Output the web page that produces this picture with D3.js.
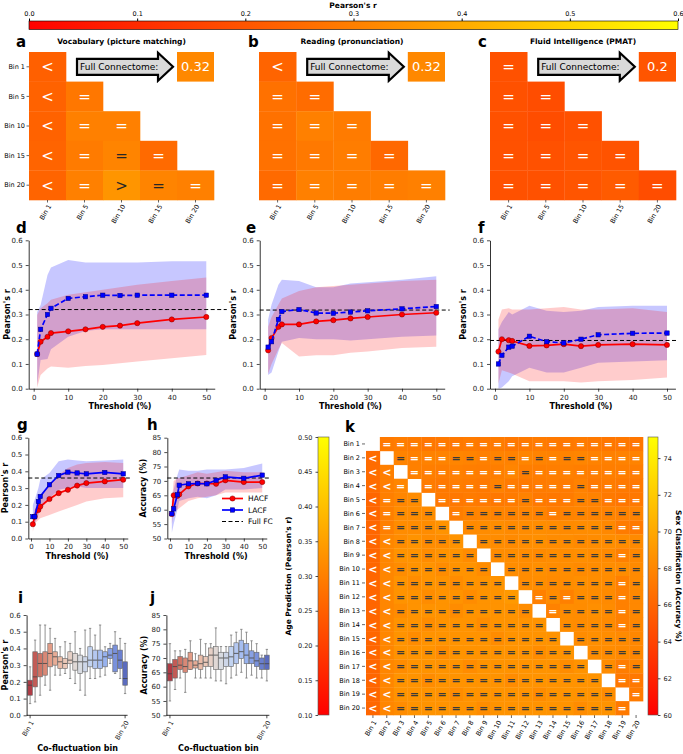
<!DOCTYPE html>
<html>
<head>
<meta charset="utf-8">
<script src="https://cdn.jsdelivr.net/npm/d3@7"></script>
<style>
body { margin: 0; background: #fff; }
svg { font-family: "DejaVu Sans", sans-serif; }
</style>
</head>
<body>
<div id="fig"></div>
<script>
// ---- data ----
var bins5 = ["Bin 1", "Bin 5", "Bin 10", "Bin 15", "Bin 20"];

// lower-triangle r values and comparison signs ('e' = dark '=', 'g' = dark '>')
var vocabR = [[0.225], [0.23, 0.28], [0.23, 0.30, 0.30], [0.235, 0.29, 0.31, 0.25], [0.235, 0.30, 0.35, 0.31, 0.30]];
var vocabSign = ["<", "<=", "<==", "<=e=", "<=ge="];
var vocabFull = 0.32;

var readR = [[0.235], [0.265, 0.255], [0.265, 0.30, 0.29], [0.265, 0.285, 0.295, 0.245], [0.25, 0.30, 0.295, 0.295, 0.30]];
var readSign = ["<", "==", "===", "====", "====="];
var readFull = 0.32;

var pmatR = [[0.19], [0.19, 0.18], [0.19, 0.18, 0.19], [0.19, 0.19, 0.20, 0.195], [0.19, 0.19, 0.20, 0.215, 0.18]];
var pmatSign = ["=", "==", "===", "====", "====="];
var pmatFull = 0.2;

var thresholds = [1, 2, 4, 5, 10, 15, 20, 25, 30, 40, 50];

var dHacf = [0.14, 0.19, 0.21, 0.225, 0.232, 0.24, 0.25, 0.255, 0.265, 0.28, 0.29];
var dLacf = [0.14, 0.24, 0.30, 0.325, 0.365, 0.372, 0.378, 0.377, 0.378, 0.378, 0.378];
var dHacfLo = [0.005, 0.055, 0.082, 0.09, 0.085, 0.092, 0.096, 0.103, 0.11, 0.123, 0.136];
var dHacfHi = [0.298, 0.325, 0.345, 0.36, 0.38, 0.39, 0.40, 0.41, 0.42, 0.435, 0.45];
var dLacfLo = [0.015, 0.116, 0.12, 0.16, 0.21, 0.233, 0.24, 0.24, 0.24, 0.24, 0.24];
var dLacfHi = [0.31, 0.338, 0.46, 0.49, 0.52, 0.51, 0.51, 0.51, 0.51, 0.515, 0.515];
var dFull = 0.32;

var eHacf = [0.155, 0.205, 0.25, 0.26, 0.26, 0.272, 0.277, 0.284, 0.29, 0.30, 0.307];
var eLacf = [0.168, 0.19, 0.28, 0.312, 0.32, 0.306, 0.305, 0.31, 0.315, 0.323, 0.332];
var eHacfLo = [0.06, 0.10, 0.16, 0.185, 0.13, 0.135, 0.135, 0.145, 0.15, 0.165, 0.17];
var eHacfHi = [0.25, 0.29, 0.34, 0.365, 0.395, 0.41, 0.415, 0.42, 0.425, 0.435, 0.44];
var eLacfLo = [0.055, 0.065, 0.15, 0.19, 0.205, 0.20, 0.20, 0.195, 0.20, 0.21, 0.215];
var eLacfHi = [0.28, 0.34, 0.42, 0.44, 0.435, 0.41, 0.41, 0.425, 0.43, 0.44, 0.455];
var eFull = 0.318;

var fHacf = [0.15, 0.20, 0.196, 0.193, 0.173, 0.175, 0.18, 0.172, 0.177, 0.18, 0.177];
var fLacf = [0.10, 0.135, 0.168, 0.172, 0.212, 0.19, 0.185, 0.20, 0.218, 0.224, 0.225];
var fHacfLo = [0.02, 0.075, 0.065, 0.06, 0.03, 0.03, 0.03, 0.025, 0.03, 0.035, 0.045];
var fHacfHi = [0.28, 0.32, 0.325, 0.32, 0.32, 0.325, 0.33, 0.32, 0.32, 0.325, 0.31];
var fLacfLo = [0.0, 0.005, 0.03, 0.05, 0.085, 0.065, 0.065, 0.085, 0.105, 0.11, 0.115];
var fLacfHi = [0.24, 0.27, 0.31, 0.30, 0.335, 0.315, 0.31, 0.315, 0.33, 0.335, 0.335];
var fFull = 0.195;

var gHacf = [0.085, 0.13, 0.17, 0.19, 0.235, 0.27, 0.29, 0.315, 0.33, 0.34, 0.35];
var gLacf = [0.13, 0.13, 0.22, 0.25, 0.32, 0.375, 0.395, 0.39, 0.385, 0.393, 0.385];
var gHacfLo = [0.04, 0.09, 0.11, 0.12, 0.14, 0.16, 0.18, 0.20, 0.22, 0.24, 0.245];
var gHacfHi = [0.13, 0.17, 0.23, 0.26, 0.32, 0.38, 0.42, 0.44, 0.45, 0.455, 0.45];
var gLacfLo = [0.08, 0.09, 0.14, 0.17, 0.24, 0.29, 0.30, 0.31, 0.30, 0.30, 0.30];
var gLacfHi = [0.20, 0.23, 0.30, 0.35, 0.39, 0.46, 0.47, 0.465, 0.46, 0.465, 0.47];
var gFull = 0.36;

var hHacf = [58.5, 65, 64.8, 65.3, 68.1, 69.1, 69.1, 69, 70.2, 69.6, 69.6];
var hLacf = [58.6, 60.3, 65.2, 68.5, 69, 69.1, 69, 70.2, 71.4, 70.9, 72];
var hHacfLo = [55, 60, 60, 60.5, 63, 64, 64.5, 65, 66, 66, 66];
var hHacfHi = [63, 70, 71, 71, 72, 73, 72.5, 73, 73.5, 73, 73];
var hLacfLo = [52, 55, 60, 63, 64, 64.5, 64, 65, 67, 67, 67.5];
var hLacfHi = [63, 67, 72, 74, 73.5, 73.5, 74, 74, 74, 74.5, 76];
var hFull = 71;

// box stats per co-fluctuation bin: [low whisker, q1, median, q3, high whisker]
var iStats = [
  [0.07, 0.12, 0.18, 0.21, 0.29], [0.08, 0.17, 0.23, 0.38, 0.45], [0.12, 0.23, 0.31, 0.37, 0.54],
  [0.18, 0.24, 0.31, 0.38, 0.54], [0.15, 0.29, 0.37, 0.43, 0.52], [0.24, 0.30, 0.35, 0.38, 0.46],
  [0.24, 0.28, 0.32, 0.35, 0.41], [0.25, 0.28, 0.31, 0.34, 0.44], [0.22, 0.31, 0.33, 0.38, 0.43],
  [0.19, 0.27, 0.32, 0.37, 0.50], [0.15, 0.25, 0.32, 0.36, 0.40], [0.12, 0.26, 0.32, 0.35, 0.51],
  [0.22, 0.29, 0.33, 0.41, 0.52], [0.22, 0.28, 0.33, 0.39, 0.48], [0.23, 0.28, 0.33, 0.39, 0.54],
  [0.24, 0.29, 0.35, 0.38, 0.41], [0.31, 0.34, 0.36, 0.40, 0.43], [0.25, 0.26, 0.37, 0.42, 0.50],
  [0.22, 0.28, 0.33, 0.39, 0.46], [0.13, 0.18, 0.22, 0.32, 0.43]
];
var jStats = [
  [55, 62, 64.5, 68, 75], [59, 63, 67, 69.5, 72.5], [63, 66, 67.5, 70.5, 72.5],
  [58, 65, 67, 70, 73], [66, 66, 69, 72, 76], [63, 66.5, 67.5, 69, 71.5],
  [63, 66, 68, 71, 76.5], [63, 67, 68.5, 70.5, 75], [63, 67, 71, 73.5, 75],
  [62, 66, 71, 74, 80.5], [62, 66, 70, 72, 74], [61, 67, 70, 72, 74],
  [63, 67, 70.4, 74, 78], [64, 68, 71.6, 75.3, 79], [65, 69.8, 72.2, 76.2, 80],
  [63, 68, 71, 75, 79], [64, 68, 70, 72.5, 76], [63, 67, 69, 72, 75],
  [63, 66, 68, 70, 71], [62, 66, 68, 71, 73]
];

var kBins = ["Bin 1", "Bin 2", "Bin 3", "Bin 4", "Bin 5", "Bin 6", "Bin 7", "Bin 8", "Bin 9", "Bin 10",
  "Bin 11", "Bin 12", "Bin 13", "Bin 14", "Bin 15", "Bin 16", "Bin 17", "Bin 18", "Bin 19", "Bin 20"];

// age prediction r, lower triangle (row 2..20, columns 1..row-1)
var ageLower = [
  [0.27],
  [0.27, 0.30],
  [0.27, 0.30, 0.31],
  [0.26, 0.30, 0.31, 0.32],
  [0.26, 0.30, 0.32, 0.32, 0.32],
  [0.26, 0.30, 0.32, 0.32, 0.32, 0.33],
  [0.26, 0.31, 0.32, 0.33, 0.32, 0.32, 0.33],
  [0.26, 0.31, 0.33, 0.33, 0.32, 0.33, 0.33, 0.32],
  [0.26, 0.31, 0.32, 0.33, 0.33, 0.32, 0.33, 0.33, 0.32],
  [0.26, 0.31, 0.33, 0.32, 0.33, 0.33, 0.32, 0.33, 0.33, 0.33],
  [0.26, 0.31, 0.33, 0.33, 0.32, 0.33, 0.33, 0.32, 0.33, 0.33, 0.34],
  [0.26, 0.31, 0.32, 0.33, 0.33, 0.33, 0.32, 0.33, 0.33, 0.33, 0.33, 0.32],
  [0.26, 0.31, 0.33, 0.33, 0.32, 0.33, 0.33, 0.33, 0.32, 0.33, 0.33, 0.33, 0.33],
  [0.26, 0.31, 0.33, 0.32, 0.33, 0.33, 0.33, 0.33, 0.33, 0.32, 0.33, 0.33, 0.33, 0.33],
  [0.26, 0.31, 0.33, 0.33, 0.33, 0.32, 0.33, 0.33, 0.33, 0.33, 0.33, 0.33, 0.32, 0.33, 0.33],
  [0.26, 0.31, 0.32, 0.33, 0.33, 0.33, 0.33, 0.32, 0.33, 0.33, 0.33, 0.33, 0.33, 0.33, 0.32, 0.33],
  [0.26, 0.31, 0.33, 0.33, 0.32, 0.33, 0.33, 0.33, 0.33, 0.33, 0.32, 0.33, 0.33, 0.33, 0.33, 0.33, 0.33],
  [0.26, 0.31, 0.33, 0.33, 0.33, 0.33, 0.32, 0.33, 0.33, 0.33, 0.33, 0.33, 0.32, 0.33, 0.33, 0.33, 0.33, 0.32],
  [0.26, 0.31, 0.32, 0.33, 0.33, 0.33, 0.33, 0.33, 0.32, 0.33, 0.33, 0.33, 0.33, 0.33, 0.33, 0.32, 0.33, 0.33, 0.29]
];

// sex classification accuracy, upper triangle (row 1..19, columns row+1..20)
var sexUpper = [
  [67.2, 67.4, 67.3, 67.0, 67.2, 67.1, 67.3, 67.2, 67.3, 67.1, 67.2, 67.3, 67.2, 67.1, 67.3, 67.2, 67.0, 67.1, 67.0],
  [67.8, 67.6, 67.7, 67.8, 67.9, 67.8, 67.6, 67.8, 67.7, 67.9, 67.8, 67.7, 67.8, 67.9, 67.7, 67.6, 67.7, 67.8],
  [67.6, 67.5, 67.4, 67.6, 67.5, 67.4, 67.5, 67.9, 67.5, 67.4, 67.5, 67.6, 67.5, 67.4, 67.5, 67.5, 67.4],
  [67.3, 67.2, 67.4, 67.3, 67.2, 67.7, 67.3, 67.2, 67.3, 67.4, 67.3, 67.7, 67.2, 67.3, 67.2, 67.1],
  [67.2, 67.1, 67.3, 67.2, 67.1, 67.3, 67.7, 67.2, 67.1, 67.3, 67.8, 67.7, 67.2, 67.0, 67.1],
  [67.4, 67.8, 67.9, 67.8, 67.8, 67.9, 67.8, 67.4, 67.8, 67.9, 67.8, 67.8, 67.7, 67.8],
  [68.2, 68.3, 68.4, 68.2, 68.3, 68.4, 68.3, 68.2, 68.3, 68.4, 68.1, 67.3, 67.2],
  [68.4, 68.3, 68.2, 68.4, 68.5, 68.3, 68.4, 68.2, 68.3, 68.4, 68.3, 68.2],
  [68.3, 68.4, 68.3, 68.2, 68.4, 68.3, 68.5, 68.3, 68.2, 67.6, 68.1],
  [68.4, 68.3, 68.5, 68.3, 68.4, 68.2, 68.3, 68.4, 68.3, 68.2],
  [68.3, 68.4, 68.2, 68.3, 68.5, 68.4, 68.3, 67.6, 68.2],
  [67.6, 68.3, 67.6, 68.4, 68.3, 68.2, 67.6, 68.1],
  [67.7, 68.4, 68.3, 68.5, 68.3, 67.6, 68.1],
  [68.4, 68.3, 68.4, 68.2, 67.6, 68.0],
  [68.3, 68.5, 68.4, 68.2, 68.0],
  [68.4, 68.3, 68.2, 68.0],
  [68.3, 67.4, 67.9],
  [67.2, 67.1],
  [67.3]
];

// comparison signs per k row ('.' diagonal, '<' white, '=' white, 'e' dark '=')
var kSigns = [
  ".===================",
  "<.e===ee=ee=e=ee====",
  "<<.========e========",
  "<<=.=====e=====e====",
  "<=ee.======e===ee===",
  "<=eee.=eeeeee=eeeeee",
  "<=eeee.eeeeeeeeeee==",
  "<<eeeee.eeeeeeeeeeee",
  "<<eeeeee.eeeeeeeee=e",
  "<<eeeeeee.eeeeeeeeee",
  "<<eeeeeeee.eeeeeee=e",
  "<<eeeeeeeee.=e=eee=e",
  "<<eeeeeeeeee.=eeee=e",
  "<<eeeeeeeeeee.eeee=e",
  "<<eeeeeeeeeeee.eeeee",
  "<<eeeeeeeeeeeee.eeee",
  "<<eeeeeeeeeeeeee.e=e",
  "<<eeeeeeeeeeeeeee.==",
  "<<eeeeeeeeeeeeeeee.=",
  "<<eeeeeeeeeeeeeeee=."
];

// ---- drawing ----
var W = 683, H = 754;
var svg = d3.select("#fig").append("svg").attr("width", W).attr("height", H);
var dark = "#262626";

var rColor = d3.scaleLinear().domain([0, 0.6]).range(["#ff0000", "#ffff00"]).clamp(true);
var ageColor = d3.scaleLinear().domain([0.1, 0.5]).range(["#ff0000", "#ffff00"]).clamp(true);
var sexColor = d3.scaleLinear().domain([60, 75.15]).range(["#ff0000", "#ffff00"]).clamp(true);

function label(x, y, s, size, opt) {
  opt = opt || {};
  var t = svg.append("text").attr("x", x).attr("y", y).text(s)
    .attr("font-size", size).attr("fill", opt.fill || "#000")
    .attr("text-anchor", opt.anchor || "start");
  if (opt.bold) t.attr("font-weight", "bold");
  if (opt.rot) t.attr("transform", "rotate(" + opt.rot + "," + x + "," + y + ")");
  return t;
}

// top colorbar
var defs = svg.append("defs");
var grad = defs.append("linearGradient").attr("id", "autumnH");
grad.append("stop").attr("offset", "0%").attr("stop-color", "#ff0000");
grad.append("stop").attr("offset", "100%").attr("stop-color", "#ffff00");
var gradV = defs.append("linearGradient").attr("id", "autumnV").attr("x1", 0).attr("y1", 1).attr("x2", 0).attr("y2", 0);
gradV.append("stop").attr("offset", "0%").attr("stop-color", "#ff0000");
gradV.append("stop").attr("offset", "100%").attr("stop-color", "#ffff00");

var cbX = d3.scaleLinear().domain([0, 0.6]).range([29, 678]);
svg.append("rect").attr("x", 29).attr("y", 21).attr("width", 649).attr("height", 8.5)
  .attr("fill", "url(#autumnH)").attr("stroke", "#000").attr("stroke-width", 0.6);
svg.append("g").attr("transform", "translate(0,21)")
  .call(d3.axisTop(cbX).tickValues([0, 0.1, 0.2, 0.3, 0.4, 0.5, 0.6]).tickFormat(d3.format(".1f")).tickSize(2.5).tickSizeOuter(0))
  .call(function(g) { g.select(".domain").remove(); g.selectAll("text").attr("font-size", 6.5).attr("font-family", "DejaVu Sans").attr("dy", "0"); });
label(353, 7.5, "Pearson's r", 7.5, {bold: true, anchor: "middle"});

// triangle heatmaps a-c
function triHeat(x0, x1, vals, signs, full, title, letter, lx, showY) {
  var x = d3.scaleBand().domain(bins5).range([x0, x1]);
  var y = d3.scaleBand().domain(bins5).range([52, 200]);
  var g = svg.append("g");
  vals.forEach(function(row, i) {
    row.forEach(function(v, j) {
      g.append("rect").attr("x", x(bins5[j])).attr("y", y(bins5[i]))
        .attr("width", x.bandwidth() + 0.3).attr("height", y.bandwidth() + 0.3).attr("fill", rColor(v));
      var s = signs[i][j];
      var ch = s === "e" ? "=" : s === "g" ? ">" : s;
      var col = (s === "e" || s === "g") ? dark : "#fff";
      g.append("text").attr("x", x(bins5[j]) + x.bandwidth() / 2).attr("y", y(bins5[i]) + y.bandwidth() / 2)
        .attr("dy", "0.36em").attr("text-anchor", "middle").attr("font-size", 15).attr("fill", col).text(ch);
    });
  });
  // full connectome value
  var fx = x(bins5[4]), fy = y(bins5[0]);
  g.append("rect").attr("x", fx).attr("y", fy).attr("width", x.bandwidth()).attr("height", y.bandwidth())
    .attr("fill", rColor(full));
  g.append("text").attr("x", fx + x.bandwidth() / 2).attr("y", fy + y.bandwidth() / 2).attr("dy", "0.36em")
    .attr("text-anchor", "middle").attr("font-size", 13).attr("fill", "#fff").text(String(full));
  // arrow
  var ax0 = x(bins5[1]) + 11, ax1 = fx - 4, hb = ax1 - 15, cy = fy + y.bandwidth() / 2;
  g.append("path").attr("d", "M" + ax0 + "," + (cy - 8) + "L" + hb + "," + (cy - 8) + "L" + hb + "," + (cy - 14) +
      "L" + ax1 + "," + cy + "L" + hb + "," + (cy + 14) + "L" + hb + "," + (cy + 8) + "L" + ax0 + "," + (cy + 8) + "Z")
    .attr("fill", "#d9d9d9").attr("stroke", "#000").attr("stroke-width", 2.2).attr("stroke-linejoin", "miter");
  g.append("text").attr("x", ax0 + 3).attr("y", cy).attr("dy", "0.36em").attr("font-size", 9).text("Full Connectome:");
  // ticks
  bins5.forEach(function(b) {
    var cx = x(b) + x.bandwidth() / 2;
    g.append("line").attr("x1", cx).attr("x2", cx).attr("y1", 200).attr("y2", 202.5).attr("stroke", "#000").attr("stroke-width", 0.6);
    g.append("text").attr("transform", "translate(" + (cx + 2) + ",205) rotate(-60)")
      .attr("text-anchor", "end").attr("dy", "0.35em").attr("font-size", 6.5).text(b);
    if (showY) {
      var cy2 = y(b) + y.bandwidth() / 2;
      g.append("line").attr("x1", x0 - 2.5).attr("x2", x0).attr("y1", cy2).attr("y2", cy2).attr("stroke", "#000").attr("stroke-width", 0.6);
      g.append("text").attr("x", x0 - 4).attr("y", cy2).attr("dy", "0.35em").attr("text-anchor", "end").attr("font-size", 6.5).text(b);
    }
  });
  label((x0 + x1) / 2, 44, title, 7.5, {bold: true, anchor: "middle"});
  label(lx, 47, letter, 15, {bold: true});
}
triHeat(29, 214, vocabR, vocabSign, vocabFull, "Vocabulary (picture matching)", "a", 16, true);
triHeat(259, 445, readR, readSign, readFull, "Reading (pronunciation)", "b", 248, false);
triHeat(490, 676, pmatR, pmatSign, pmatFull, "Fluid Intelligence (PMAT)", "c", 478, false);

// threshold line panels
function styleAxis(g, fs) {
  g.selectAll("text").attr("font-size", fs).attr("font-family", "DejaVu Sans").attr("fill", "#222");
  g.selectAll("line").attr("stroke-width", 0.7);
  g.select(".domain").attr("stroke-width", 0.8);
}

function linePanel(o) {
  var x = d3.scaleLinear().domain([-1.45, 52.45]).range([o.x0 - 1.45 * o.ppu, o.x0 + 52.45 * o.ppu]);
  var y = d3.scaleLinear().domain(o.yDom).range([o.yBot, o.yTop]);
  var g = svg.append("g");
  var area = function(lo, hi) {
    return d3.area().x(function(d, i) { return x(thresholds[i]); })
      .y0(function(d, i) { return y(lo[i]); }).y1(function(d, i) { return y(hi[i]); })(thresholds);
  };
  g.append("path").attr("d", area(o.lLo, o.lHi)).attr("fill", "#0000ff").attr("fill-opacity", 0.22);
  g.append("path").attr("d", area(o.hLo, o.hHi)).attr("fill", "#ff0000").attr("fill-opacity", 0.2);
  var ln = d3.line().x(function(d, i) { return x(thresholds[i]); }).y(function(d) { return y(d); });
  g.append("line").attr("x1", x.range()[0]).attr("x2", x.range()[1] + o.dashExt)
    .attr("y1", y(o.full)).attr("y2", y(o.full)).attr("stroke", "#000").attr("stroke-width", 1).attr("stroke-dasharray", "4,2.5");
  g.append("path").attr("d", ln(o.h)).attr("fill", "none").attr("stroke", "#ff0000").attr("stroke-width", 1.7);
  g.selectAll(null).data(o.h).enter().append("circle")
    .attr("cx", function(d, i) { return x(thresholds[i]); }).attr("cy", function(d) { return y(d); })
    .attr("r", 2.6).attr("fill", "#ff0000").attr("stroke", "#7a0000").attr("stroke-width", 0.5);
  g.append("path").attr("d", ln(o.l)).attr("fill", "none").attr("stroke", "#0000ff").attr("stroke-width", 1.7)
    .attr("stroke-dasharray", o.lDash ? "5,2.5" : null);
  g.selectAll(null).data(o.l).enter().append("rect")
    .attr("x", function(d, i) { return x(thresholds[i]) - 2.2; }).attr("y", function(d) { return y(d) - 2.2; })
    .attr("width", 4.4).attr("height", 4.4).attr("fill", "#0000ff").attr("stroke", "#00007a").attr("stroke-width", 0.5);
  g.append("g").attr("transform", "translate(" + x.range()[0] + ",0)")
    .call(d3.axisLeft(y).tickValues(o.yTicks).tickFormat(o.fmt).tickSize(3).tickSizeOuter(0))
    .call(function(a) { styleAxis(a, 7); });
  g.append("g").attr("transform", "translate(0," + o.yBot + ")")
    .call(d3.axisBottom(x).tickValues([0, 10, 20, 30, 40, 50]).tickSize(3).tickSizeOuter(0))
    .call(function(a) { styleAxis(a, 7); });
  label(o.x0 + 25 * o.ppu, o.yBot + 20.5, "Threshold (%)", 8, {bold: true, anchor: "middle"});
  label(o.ylx, (o.yTop + o.yBot) / 2, o.ylab, 8, {bold: true, anchor: "middle", rot: -90});
  label(o.lx, o.ly, o.letter, 15, {bold: true});
  return {x: x, y: y};
}

var rTicks = [0, 0.1, 0.2, 0.3, 0.4, 0.5, 0.6];
var f1 = d3.format(".1f");
linePanel({x0: 33.7, ppu: 3.452, yTop: 240.3, yBot: 388.7, yDom: [0, 0.6], yTicks: rTicks, fmt: f1,
  h: dHacf, l: dLacf, hLo: dHacfLo, hHi: dHacfHi, lLo: dLacfLo, lHi: dLacfHi, full: dFull, lDash: true, dashExt: 12,
  ylab: "Pearson's r", ylx: 10, letter: "d", lx: 16, ly: 233});
linePanel({x0: 264.7, ppu: 3.432, yTop: 240.3, yBot: 388.7, yDom: [0, 0.6], yTicks: rTicks, fmt: f1,
  h: eHacf, l: eLacf, hLo: eHacfLo, hHi: eHacfHi, lLo: eLacfLo, lHi: eLacfHi, full: eFull, lDash: true, dashExt: 5,
  ylab: "Pearson's r", ylx: 236, letter: "e", lx: 246, ly: 233});
linePanel({x0: 495, ppu: 3.44, yTop: 240.3, yBot: 388.7, yDom: [0, 0.6], yTicks: rTicks, fmt: f1,
  h: fHacf, l: fLacf, hLo: fHacfLo, hHi: fHacfHi, lLo: fLacfLo, lHi: fLacfHi, full: fFull, lDash: true, dashExt: 3,
  ylab: "Pearson's r", ylx: 466, letter: "f", lx: 478, ly: 233});
linePanel({x0: 31, ppu: 1.845, yTop: 437.7, yBot: 538.5, yDom: [0, 0.6], yTicks: rTicks, fmt: f1,
  h: gHacf, l: gLacf, hLo: gHacfLo, hHi: gHacfHi, lLo: gLacfLo, lHi: gLacfHi, full: gFull, lDash: false, dashExt: 3,
  ylab: "Pearson's r", ylx: 8, letter: "g", lx: 17, ly: 430});
linePanel({x0: 170, ppu: 1.845, yTop: 437.7, yBot: 538.5, yDom: [50, 85], yTicks: [50, 55, 60, 65, 70, 75, 80, 85], fmt: d3.format("d"),
  h: hHacf, l: hLacf, hLo: hHacfLo, hHi: hHacfHi, lLo: hLacfLo, lHi: hLacfHi, full: hFull, lDash: false, dashExt: 3,
  ylab: "Accuracy (%)", ylx: 146, letter: "h", lx: 147, ly: 430});

// legend for h
[["HACF", "#ff0000", "c"], ["LACF", "#0000ff", "s"], ["Full FC", "#000", "d"]].forEach(function(it, i) {
  var ly = 498.5 + i * 11.5;
  var l = svg.append("line").attr("x1", 222).attr("x2", 243).attr("y1", ly).attr("y2", ly).attr("stroke", it[1])
    .attr("stroke-width", it[2] === "d" ? 1 : 1.7);
  if (it[2] === "d") l.attr("stroke-dasharray", "4,2.5");
  if (it[2] === "c") svg.append("circle").attr("cx", 232.5).attr("cy", ly).attr("r", 2.6).attr("fill", "#ff0000").attr("stroke", "#7a0000").attr("stroke-width", 0.5);
  if (it[2] === "s") svg.append("rect").attr("x", 230.3).attr("y", ly - 2.2).attr("width", 4.4).attr("height", 4.4).attr("fill", "#0000ff").attr("stroke", "#00007a").attr("stroke-width", 0.5);
  label(248, ly + 2.5, it[0], 7.5);
});

// box plot panels
var cw = d3.scaleLinear().domain([0, 0.125, 0.25, 0.375, 0.5, 0.625, 0.75, 0.875, 1])
  .range(["#3b4cc0", "#6282ea", "#8db0fe", "#b8d0f9", "#dddcdc", "#f5c4ad", "#f49a7b", "#de604d", "#b40426"]);
function boxColor(i) {
  var c = d3.hsl(cw(1 - (i + 1) / 21));
  c.s *= 0.75;
  return c.toString();
}

function boxPanel(o) {
  var x = d3.scaleBand().domain(d3.range(20)).range([o.xa, o.xb]).paddingInner(0).paddingOuter(0);
  var y = d3.scaleLinear().domain(o.yDom).range([o.yBot, o.yTop]);
  var g = svg.append("g");
  var bw = x.bandwidth() * 0.92;
  o.stats.forEach(function(s, i) {
    var cx = x(i) + x.bandwidth() / 2;
    g.append("line").attr("x1", cx).attr("x2", cx).attr("y1", y(s[0])).attr("y2", y(s[4])).attr("stroke", "#777").attr("stroke-width", 0.8);
    g.append("line").attr("x1", cx - bw / 4).attr("x2", cx + bw / 4).attr("y1", y(s[0])).attr("y2", y(s[0])).attr("stroke", "#777").attr("stroke-width", 0.8);
    g.append("line").attr("x1", cx - bw / 4).attr("x2", cx + bw / 4).attr("y1", y(s[4])).attr("y2", y(s[4])).attr("stroke", "#777").attr("stroke-width", 0.8);
    g.append("rect").attr("x", cx - bw / 2).attr("y", y(s[3])).attr("width", bw).attr("height", y(s[1]) - y(s[3]))
      .attr("fill", boxColor(i)).attr("stroke", "#666").attr("stroke-width", 0.6);
    g.append("line").attr("x1", cx - bw / 2).attr("x2", cx + bw / 2).attr("y1", y(s[2])).attr("y2", y(s[2])).attr("stroke", "#444").attr("stroke-width", 0.8);
  });
  g.append("g").attr("transform", "translate(" + (o.xa - 1) + ",0)")
    .call(d3.axisLeft(y).tickValues(o.yTicks).tickFormat(o.fmt).tickSize(3).tickSizeOuter(0))
    .call(function(a) { styleAxis(a, 7); });
  g.append("line").attr("x1", o.xa - 1).attr("x2", o.xb).attr("y1", o.yBot).attr("y2", o.yBot).attr("stroke", "#000").attr("stroke-width", 0.8);
  [[0, "Bin 1"], [19, "Bin 20"]].forEach(function(t) {
    var cx = x(t[0]) + x.bandwidth() / 2;
    g.append("line").attr("x1", cx).attr("x2", cx).attr("y1", o.yBot).attr("y2", o.yBot + 3).attr("stroke", "#000").attr("stroke-width", 0.7);
    g.append("text").attr("transform", "translate(" + (cx + 2) + "," + (o.yBot + 6) + ") rotate(-60)")
      .attr("text-anchor", "end").attr("dy", "0.35em").attr("font-size", 6.5).attr("fill", "#222").text(t[1]);
  });
  label((o.xa + o.xb) / 2, 751, "Co-fluctuation bin", 8, {bold: true, anchor: "middle"});
  label(o.ylx, (o.yTop + o.yBot) / 2, o.ylab, 8, {bold: true, anchor: "middle", rot: -90});
  label(o.lx, 603, o.letter, 15, {bold: true});
}
boxPanel({xa: 27.6, xb: 127.6, yTop: 615, yBot: 715.3, yDom: [0, 0.6], yTicks: rTicks, fmt: f1, stats: iStats,
  ylab: "Pearson's r", ylx: 8, letter: "i", lx: 18});
boxPanel({xa: 167.4, xb: 269.4, yTop: 615, yBot: 715.3, yDom: [50, 85], yTicks: [50, 55, 60, 65, 70, 75, 80, 85],
  fmt: d3.format("d"), stats: jStats, ylab: "Accuracy (%)", ylx: 147, letter: "j", lx: 150});

// panel k
var kx = d3.scaleBand().domain(kBins).range([366, 643]);
var ky = d3.scaleBand().domain(kBins).range([437, 715]);
var kg = svg.append("g");
kBins.forEach(function(rb, r) {
  kBins.forEach(function(cb, c) {
    if (r === c) return;
    var fill = r > c ? ageColor(ageLower[r - 1][c]) : sexColor(sexUpper[r][c - r - 1]);
    kg.append("rect").attr("x", kx(cb)).attr("y", ky(rb)).attr("width", kx.bandwidth() + 0.3).attr("height", ky.bandwidth() + 0.3).attr("fill", fill);
    var s = kSigns[r][c];
    kg.append("text").attr("x", kx(cb) + kx.bandwidth() / 2).attr("y", ky(rb) + ky.bandwidth() / 2).attr("dy", "0.36em")
      .attr("text-anchor", "middle").attr("font-size", 11).attr("font-weight", "bold")
      .attr("fill", s === "e" ? "#3a3a3a" : "#fff").text(s === "e" ? "=" : s);
  });
  var cy = ky(rb) + ky.bandwidth() / 2, cx = kx(rb) + kx.bandwidth() / 2;
  kg.append("line").attr("x1", 362).attr("x2", 365).attr("y1", cy).attr("y2", cy).attr("stroke", "#000").attr("stroke-width", 0.6);
  kg.append("text").attr("x", 360).attr("y", cy).attr("dy", "0.35em").attr("text-anchor", "end").attr("font-size", 6.5).text(rb);
  kg.append("line").attr("x1", cx).attr("x2", cx).attr("y1", 715).attr("y2", 718).attr("stroke", "#000").attr("stroke-width", 0.6);
  kg.append("text").attr("transform", "translate(" + (cx + 2) + ",721) rotate(-60)")
    .attr("text-anchor", "end").attr("dy", "0.35em").attr("font-size", 6.5).text(rb);
});
label(345, 432, "k", 15, {bold: true});

// k colorbars
var ageY = d3.scaleLinear().domain([0.1, 0.5]).range([715, 437]);
svg.append("rect").attr("x", 318).attr("y", 437).attr("width", 11).attr("height", 278)
  .attr("fill", "url(#autumnV)").attr("stroke", "#555").attr("stroke-width", 0.6);
svg.append("g").attr("transform", "translate(318,0)")
  .call(d3.axisLeft(ageY).tickValues([0.1, 0.15, 0.2, 0.25, 0.3, 0.35, 0.4, 0.45, 0.5]).tickFormat(d3.format(".2f")).tickSize(2.5).tickSizeOuter(0))
  .call(function(a) { a.select(".domain").remove(); styleAxis(a, 6.5); });
label(291, 576, "Age Prediction (Pearson's r)", 7.5, {bold: true, anchor: "middle", rot: -90});

var sexY = d3.scaleLinear().domain([60, 75.15]).range([715, 437]);
svg.append("rect").attr("x", 648).attr("y", 437).attr("width", 10).attr("height", 278)
  .attr("fill", "url(#autumnV)").attr("stroke", "#555").attr("stroke-width", 0.6);
svg.append("g").attr("transform", "translate(658,0)")
  .call(d3.axisRight(sexY).tickValues([60, 62, 64, 66, 68, 70, 72, 74]).tickSize(2.5).tickSizeOuter(0))
  .call(function(a) { a.select(".domain").remove(); styleAxis(a, 6.5); });
label(676, 576, "Sex Classification (Accuracy %)", 7.5, {bold: true, anchor: "middle", rot: 90});
</script>
</body>
</html>
